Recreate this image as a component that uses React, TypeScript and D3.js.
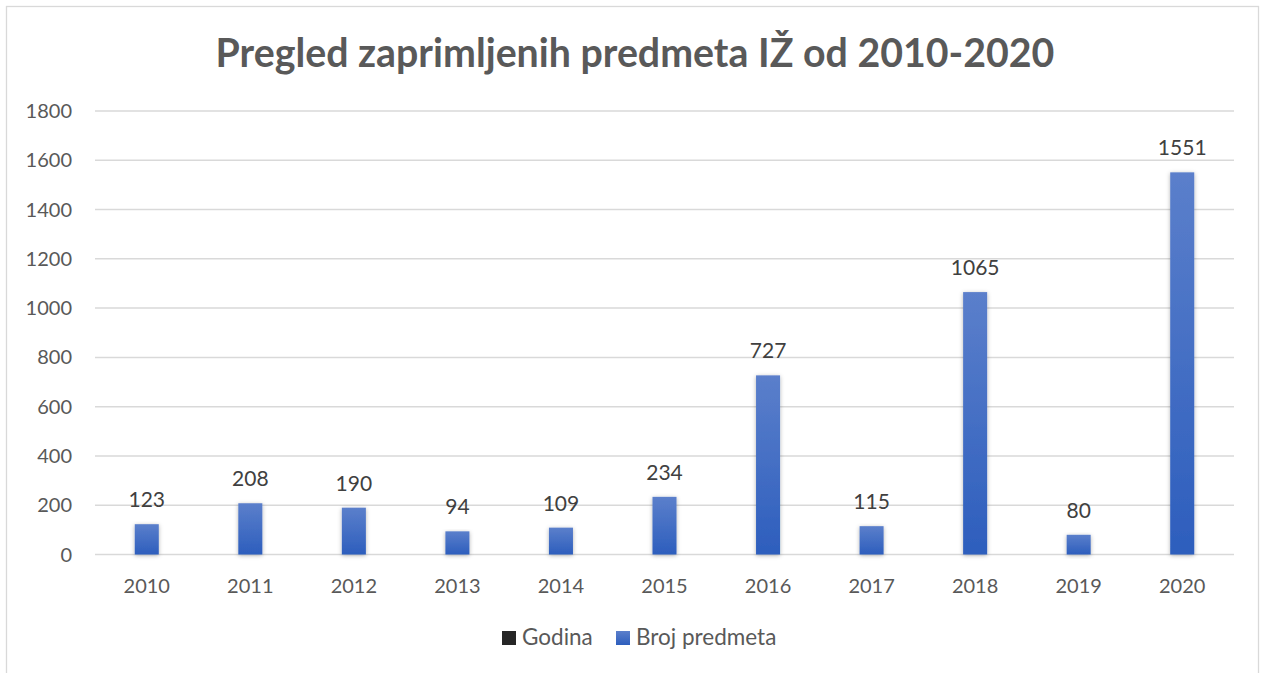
import React, { useEffect } from "react";
import * as d3 from "d3";

const years = ["2010","2011","2012","2013","2014","2015","2016","2017","2018","2019","2020"];
const counts = [123, 208, 190, 94, 109, 234, 727, 115, 1065, 80, 1551];
const yTicks = [0, 200, 400, 600, 800, 1000, 1200, 1400, 1600, 1800];
const titleText = "Pregled zaprimljenih predmeta IŽ od 2010-2020";
const legendNames = ["Godina", "Broj predmeta"];

const W = 1264, H = 673;
const FONT = "Lato, 'Open Sans', sans-serif";

export default function App() {
  useEffect(() => { document.body.style.margin = "0"; }, []);
  const x = d3.scaleBand<string>().domain(years).range([95, 1234]).paddingInner(0.768).paddingOuter(0.384);
  const y = d3.scaleLinear().domain([0, 1800]).range([554.5, 111]);
  const grey = "#595959";
  return (
    <svg width={W} height={H} style={{ display: "block", background: "#fff" }}>
      <defs>
        <linearGradient id="barGrad" x1="0" y1="0" x2="0" y2="1">
          <stop offset="0%" stopColor="#5b7fcb" />
          <stop offset="100%" stopColor="#2d5ebd" />
        </linearGradient>
        <filter id="sh" x="-50%" y="-10%" width="200%" height="130%">
          <feDropShadow dx="0" dy="1" stdDeviation="2" floodColor="#000" floodOpacity="0.3" />
        </filter>
      </defs>
      <rect x={6.5} y={6.5} width={1252} height={H + 10} fill="#fff" stroke="#d9d9d9" strokeWidth={1.3} />
      <text x={635} y={67} textAnchor="middle" fontFamily={FONT} fontWeight={700} fontSize={39.3} fill={grey}>{titleText}</text>
      {yTicks.map(t => (
        <g key={t}>
          <line x1={95} x2={1234} y1={y(t)} y2={y(t)} stroke="#d9d9d9" strokeWidth={1.5} />
          <text x={72} y={y(t) + 7} textAnchor="end" fontFamily={FONT} fontSize={20} fill={grey}>{t}</text>
        </g>
      ))}
      {years.map((yr, i) => {
        const bx = x(yr)!;
        const bw = x.bandwidth();
        const v = counts[i];
        return (
          <g key={yr}>
            <rect x={bx} y={y(v)} width={bw} height={y(0) - y(v)} fill="url(#barGrad)" filter="url(#sh)" />
            <text x={bx + bw / 2} y={y(v) - 17} textAnchor="middle" fontFamily={FONT} fontSize={21} fill="#404040">{v}</text>
            <text x={bx + bw / 2} y={593} textAnchor="middle" fontFamily={FONT} fontSize={20} fill={grey}>{yr}</text>
          </g>
        );
      })}
      <rect x={502} y={631} width={14} height={14} fill="#262626" />
      <text x={522} y={645} fontFamily={FONT} fontSize={22.5} fill={grey}>{legendNames[0]}</text>
      <rect x={616} y={631} width={14} height={14} fill="url(#barGrad)" />
      <text x={636} y={645} fontFamily={FONT} fontSize={22.5} fill={grey}>{legendNames[1]}</text>
    </svg>
  );
}
